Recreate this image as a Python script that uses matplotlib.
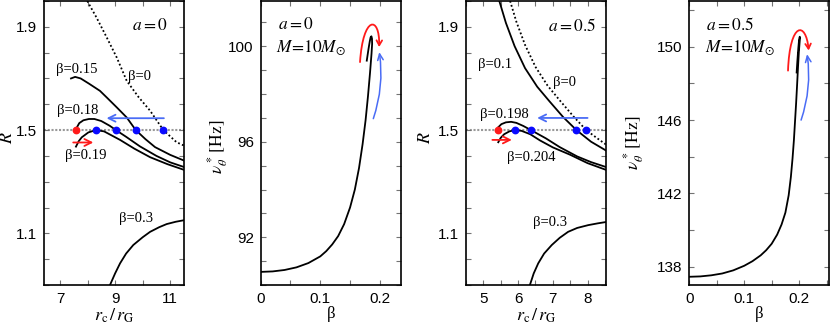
import matplotlib.pyplot as plt
from matplotlib.path import Path
from matplotlib.patches import FancyArrowPatch
from matplotlib.ticker import MultipleLocator

plt.rcParams['font.family'] = ['Liberation Sans', 'DejaVu Sans']
plt.rcParams['mathtext.fontset'] = 'stix'

# ---- a = 0, R vs r_c/r_G ----
r0_b000 = [7.99, 8.33, 8.70, 9.06, 9.42, 9.85, 10.27, 10.75, 11.23, 11.5]
R0_b000 = [2.0, 1.935, 1.858, 1.781, 1.691, 1.628, 1.575, 1.5, 1.453, 1.44]
r0_b015 = [7.40, 7.55, 7.75, 8.05, 8.45, 8.70, 9.06, 9.42, 9.75, 10.1, 10.45, 11.0, 11.5]
R0_b015 = [1.700, 1.706, 1.700, 1.680, 1.652, 1.626, 1.588, 1.549, 1.5, 1.465, 1.434, 1.404, 1.382]
r0_b018 = [7.60, 7.70, 7.85, 8.05, 8.25, 8.5, 8.8, 9.03, 9.4, 9.9, 10.5, 11.0, 11.5]
R0_b018 = [1.508, 1.527, 1.538, 1.543, 1.543, 1.535, 1.517, 1.5, 1.474, 1.437, 1.400, 1.375, 1.357]
r0_b019 = [7.58, 7.68, 7.79, 8.03, 8.3, 8.6, 9.18, 9.7, 10.27, 10.9, 11.5]
R0_b019 = [1.436, 1.457, 1.472, 1.491, 1.5, 1.495, 1.462, 1.428, 1.395, 1.368, 1.346]
r0_b030 = [8.815, 9.0, 9.18, 9.4, 9.66, 10.0, 10.27, 10.6, 10.87, 11.2, 11.5]
R0_b030 = [0.90, 0.945, 0.984, 1.022, 1.055, 1.085, 1.106, 1.124, 1.136, 1.145, 1.151]
r0_azul = [8.3, 9.03, 9.75, 10.75]
r0_rojo = [7.58]

# ---- a = 0, nu vs beta ----
beta0 = [0, 0.02, 0.04, 0.06, 0.08, 0.10, 0.11, 0.12, 0.13, 0.14, 0.15, 0.158,
         0.165, 0.171, 0.176, 0.180, 0.1835, 0.186, 0.1870, 0.1868, 0.1858, 0.1845,
         0.183, 0.181, 0.178]
nu0 = [90.55, 90.57, 90.63, 90.74, 90.92, 91.2, 91.42, 91.7, 92.05, 92.55, 93.25, 94.0,
       94.9, 95.9, 96.9, 97.9, 98.9, 99.7, 100.1, 100.32, 100.42, 100.38,
       100.2, 99.9, 99.4]

# ---- a = 0.5, R vs r_c/r_G ----
r5_b000 = [5.77, 5.95, 6.2, 6.5, 6.85, 7.2, 7.6, 7.96, 8.25, 8.53]
R5_b000 = [2.0, 1.92, 1.83, 1.745, 1.672, 1.615, 1.552, 1.5, 1.471, 1.444]
r5_b010 = [5.46, 5.65, 5.9, 6.2, 6.55, 6.9, 7.3, 7.68, 8.1, 8.53]
R5_b010 = [2.0, 1.915, 1.825, 1.74, 1.668, 1.612, 1.55, 1.5, 1.455, 1.421]
r5_b0198 = [5.43, 5.52, 5.65, 5.8, 5.95, 6.15, 6.37, 6.8, 7.2, 7.7, 8.1, 8.53]
R5_b0198 = [1.511, 1.523, 1.53, 1.532, 1.528, 1.516, 1.5, 1.468, 1.434, 1.398, 1.376, 1.357]
r5_b0204 = [5.43, 5.5, 5.6, 5.75, 5.91, 6.1, 6.35, 6.63, 7.0, 7.49, 8.0, 8.53]
R5_b0204 = [1.453, 1.47, 1.484, 1.495, 1.5, 1.497, 1.484, 1.46, 1.433, 1.405, 1.372, 1.346]
r5_b030 = [6.34, 6.45, 6.58, 6.75, 6.97, 7.2, 7.44, 7.7, 8.02, 8.3, 8.53]
R5_b030 = [0.90, 0.945, 0.984, 1.022, 1.055, 1.083, 1.106, 1.121, 1.132, 1.139, 1.144]
r5_azul = [5.91, 6.37, 7.68, 7.96]
r5_rojo = [5.43]

# ---- a = 0.5, nu vs beta ----
beta5 = [0, 0.02, 0.04, 0.06, 0.08, 0.10, 0.115, 0.13, 0.14, 0.15, 0.16, 0.168,
         0.175, 0.181, 0.185, 0.188, 0.1905, 0.1925, 0.1945, 0.1963, 0.198, 0.1995,
         0.2008, 0.2015, 0.2012, 0.2, 0.1985, 0.1968, 0.1955]
nu5 = [137.45, 137.47, 137.53, 137.63, 137.8, 138.05, 138.3, 138.62, 138.9, 139.25,
       139.75, 140.3, 140.95, 141.9, 142.9, 143.9, 144.9, 145.9, 146.9, 147.9, 148.9,
       149.7, 150.2, 150.45, 150.55, 150.4, 149.9, 149.2, 148.6]

AZUL = '#0a0aff'
AZUL_FLECHA = '#4a6cf5'
ROJO = '#ff1a1a'
SERIF = 'Liberation Serif'


def estilo(ax):
    for s in ax.spines.values():
        s.set_linewidth(1.2)
    ax.tick_params(which='both', direction='in', top=True, right=True,
                   length=3.5, width=0.8, color='0.45', labelsize=11, pad=5)


def etiqueta(ax, x, y, txt):
    ax.text(x, y, txt, ha='center', va='center', fontsize=10.5, family=SERIF)


def panel_R(ax, curvas, punto_rojo, puntos_azules, flecha_azul, flecha_roja,
            etiquetas, titulo):
    ax.axhline(1.5, color='0.6', lw=1.5, ls=(0, (1, 0.8)), zorder=1)
    for x, y, ls in curvas:
        ax.plot(x, y, color='black', lw=1.3, ls=ls, zorder=2)
    ax.annotate('', xy=flecha_azul[1], xytext=flecha_azul[0],
                arrowprops=dict(arrowstyle='->,head_length=0.5,head_width=0.25',
                                color=AZUL_FLECHA, lw=1.3, shrinkA=0, shrinkB=0))
    ax.annotate('', xy=flecha_roja[1], xytext=flecha_roja[0],
                arrowprops=dict(arrowstyle='->,head_length=0.5,head_width=0.25',
                                color=ROJO, lw=1.3, shrinkA=0, shrinkB=0))
    ax.plot(puntos_azules, [1.5] * len(puntos_azules), 'o', color=AZUL, ms=4.6, zorder=4)
    ax.plot(punto_rojo, [1.5] * len(punto_rojo), 'o', color=ROJO, ms=4.6, zorder=4)
    for x, y, txt in etiquetas:
        etiqueta(ax, x, y, txt)
    ax.text(0.76, 0.915, titulo, transform=ax.transAxes, ha='center', va='center',
            fontsize=12.5)
    ax.set_ylim(0.9, 2.0)
    ax.yaxis.set_minor_locator(MultipleLocator(0.1))
    ax.set_yticks([1.1, 1.5, 1.9])
    ax.set_ylabel(r'$R$', fontsize=13)
    ax.set_xlabel(r'$r_{\rm c}\,/\,r_{\rm G}$', fontsize=13)
    ax.xaxis.set_label_coords(0.5, -0.075)
    estilo(ax)


def panel_nu(ax, beta, nu, arco, flecha_azul, titulo):
    ax.plot(beta, nu, color='black', lw=1.3)
    p = Path(arco, [Path.MOVETO, Path.CURVE4, Path.CURVE4, Path.CURVE4])
    ax.add_patch(FancyArrowPatch(path=p, arrowstyle='->,head_length=3.5,head_width=2',
                                 color=ROJO, lw=1.3))
    ax.annotate('', xy=flecha_azul[1], xytext=flecha_azul[0],
                arrowprops=dict(arrowstyle='->,head_length=0.45,head_width=0.2',
                                color=AZUL_FLECHA, lw=1.1, shrinkA=0, shrinkB=0,
                                connectionstyle='arc3,rad=0.12'))
    ax.text(0.12, 0.918, titulo[0], transform=ax.transAxes, ha='left', va='center',
            fontsize=12.5)
    ax.text(0.11, 0.836, titulo[1], transform=ax.transAxes, ha='left', va='center',
            fontsize=12.5)
    ax.xaxis.set_minor_locator(MultipleLocator(0.05))
    ax.set_xticks([0, 0.1, 0.2])
    ax.set_xticklabels(['0', '0.1', '0.2'])
    ax.set_xlabel('β', fontsize=12, family=SERIF)
    ax.xaxis.set_label_coords(0.5, -0.075)
    ax.set_ylabel(r'$\nu^*_\theta\,[{\rm Hz}]$', fontsize=12.5)
    estilo(ax)


fig = plt.figure(figsize=(8.3, 3.25), dpi=100)
alto = 0.874
abajo = 0.123
ax1 = fig.add_axes([0.053, abajo, 0.1687, alto])
ax2 = fig.add_axes([0.3141, abajo, 0.1687, alto])
ax3 = fig.add_axes([0.5614, abajo, 0.1687, alto])
ax4 = fig.add_axes([0.8305, abajo, 0.168, alto])

panel_R(ax1,
        [(r0_b000, R0_b000, (0, (1, 1.3))), (r0_b015, R0_b015, '-'),
         (r0_b018, R0_b018, '-'), (r0_b019, R0_b019, '-'), (r0_b030, R0_b030, '-')],
        r0_rojo, r0_azul,
        [(10.77, 1.546), (8.69, 1.546)], [(7.48, 1.452), (8.21, 1.452)],
        [(7.61, 1.736, 'β=0.15'), (9.9, 1.706, 'β=0'), (7.63, 1.575, 'β=0.18'),
         (7.94, 1.402, 'β=0.19'), (9.76, 1.158, 'β=0.3')],
        r'$a=0$')
ax1.set_xlim(6.42, 11.5)
ax1.set_xticks([7, 9, 11])
ax1.xaxis.set_minor_locator(MultipleLocator(1))
ax1.yaxis.set_label_coords(-0.197, 0.52)

panel_R(ax3,
        [(r5_b000, R5_b000, (0, (1, 1.3))), (r5_b010, R5_b010, '-'),
         (r5_b0198, R5_b0198, '-'), (r5_b0204, R5_b0204, '-'), (r5_b030, R5_b030, '-')],
        r5_rojo, r5_azul,
        [(8.0, 1.547), (6.55, 1.547)], [(5.26, 1.462), (5.82, 1.462)],
        [(5.34, 1.755, 'β=0.1'), (7.35, 1.684, 'β=0'), (5.6, 1.562, 'β=0.198'),
         (6.39, 1.395, 'β=0.204'), (6.92, 1.144, 'β=0.3')],
        r'$a=0.5$')
ax3.set_xlim(4.5, 8.53)
ax3.set_xticks([5, 6, 7, 8])
ax3.xaxis.set_minor_locator(MultipleLocator(0.5))
ax3.yaxis.set_label_coords(-0.225, 0.52)

panel_nu(ax2, beta0, nu0,
         [(0.1667, 99.34), (0.1717, 101.3), (0.2, 101.3), (0.1988, 99.97)],
         [(0.189, 96.97), (0.199, 99.76)],
         (r'$a=0$', r'$M\!=\!10M_{\odot}$'))
ax2.set_xlim(0, 0.235)
ax2.set_ylim(90, 101.9)
ax2.set_yticks([92, 96, 100])
ax2.yaxis.set_minor_locator(MultipleLocator(1))
ax2.yaxis.set_label_coords(-0.22, 0.485)

panel_nu(ax4, beta5, nu5,
         [(0.1798, 148.7), (0.183, 151.4), (0.2127, 151.4), (0.2174, 149.8)],
         [(0.2036, 146.0), (0.2145, 149.6)],
         (r'$a=0.5$', r'$M\!=\!10M_{\odot}$'))
ax4.set_xlim(0, 0.254)
ax4.set_ylim(137, 152.5)
ax4.set_yticks([138, 142, 146, 150])
ax4.yaxis.set_minor_locator(MultipleLocator(2))
ax4.yaxis.set_label_coords(-0.31, 0.5)

fig.savefig('out.png', dpi=100)
